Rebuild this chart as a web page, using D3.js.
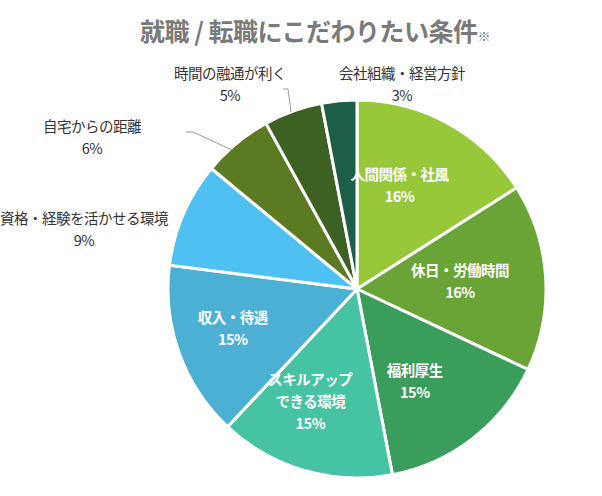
<!DOCTYPE html>
<html><head><meta charset="utf-8">
<script src="https://cdn.jsdelivr.net/npm/d3@7"></script>
<style>body{margin:0;background:#fff}text{font-family:"Noto Sans CJK JP",sans-serif}</style>
</head><body><svg id="c" width="602" height="496"></svg>
<script>
const labels = ['人間関係・社風','休日・労働時間','福利厚生','スキルアップ|できる環境','収入・待遇','資格・経験を活かせる環境','自宅からの距離','時間の融通が利く','会社組織・経営方針'];
const values = [16,16,15,15,15,9,6,5,3];
const colors = ['#97c83a','#6aa336','#3b9d5b','#45c3a2','#4bb0d3','#4fc0f2','#5c7a22','#3c6123','#1d5e47'];
const inside = [true,true,true,true,true,false,false,false,false];
const outPos = {5:[84,230],6:[92,138],7:[230,85],8:[402,85]};
const leaders = {6:[[186,132],[193,132],[232,150]],7:[[283,89],[288,89],[291,112]]};

const svg = d3.select('#c');
svg.append('text').attr('x',140).attr('y',41).attr('fill','#7a7a7a')
  .attr('font-size',25).attr('font-weight','bold').attr('letter-spacing',-0.5)
  .text('就職 / 転職にこだわりたい条件').append('tspan').attr('font-size',13).text('※');

const cx = 357, cy = 289, r = 189;
const pie = d3.pie().sort(null).value(d => d)(values);
const arc = d3.arc().innerRadius(0).outerRadius(r);
const g = svg.append('g').attr('transform',`translate(${cx},${cy})`);
g.selectAll('path').data(pie).join('path')
  .attr('d',arc).attr('fill',(d,i)=>colors[i]).attr('stroke','#fff').attr('stroke-width',3);

const labelArc = d3.arc().innerRadius(r*0.62).outerRadius(r*0.62);
pie.forEach((d,i) => {
  const lines = labels[i].split('|').concat([values[i]+'%']);
  let x, y, fill, weight;
  if (inside[i]) {
    [x,y] = labelArc.centroid(d); x += cx - 14; y += cy;
    fill = '#fff'; weight = 'bold';
  } else {
    [x,y] = outPos[i]; fill = '#333'; weight = 'normal';
  }
  const t = svg.append('text').attr('text-anchor','middle').attr('fill',fill)
    .attr('font-weight',weight).attr('font-size',14.5).attr('letter-spacing',-0.5);
  const y0 = y - (lines.length-1)*11 + 5;
  lines.forEach((l,k) => t.append('tspan').attr('x',x).attr('y',y0+k*22).text(l));
});
Object.values(leaders).forEach(pts => svg.append('path')
  .attr('d',d3.line()(pts)).attr('fill','none').attr('stroke','#999').attr('stroke-width',1));
</script></body></html>
